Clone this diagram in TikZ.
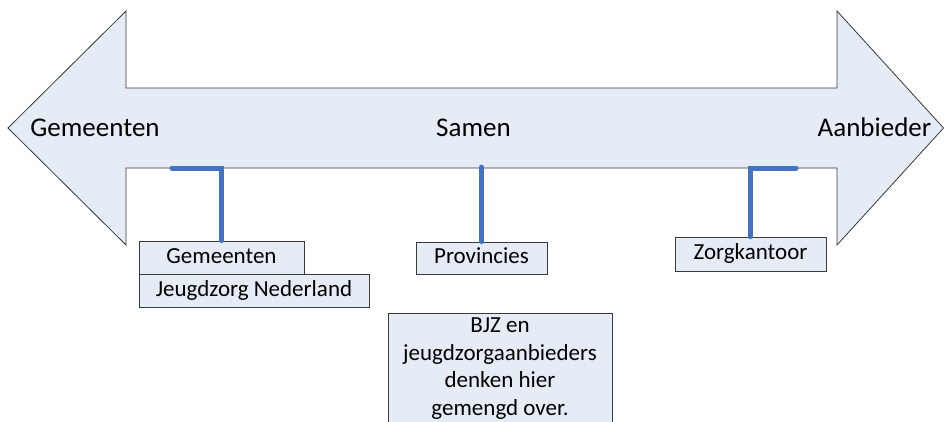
\documentclass[tikz,border=0pt]{standalone}
\usepackage{fontspec}
\setmainfont{Carlito}
\definecolor{paleblue}{HTML}{E6ECF6}
\definecolor{linkblue}{HTML}{4472C4}
\definecolor{edgegray}{HTML}{3A3A3A}
\tikzset{
  bigarrow/.style={draw=edgegray, line width=0.8pt, fill=paleblue, line join=miter},
  biglabel/.style={anchor=base, inner sep=0pt, font=\fontsize{27}{32}\selectfont},
  actor/.style={draw=edgegray, line width=0.8pt, fill=paleblue, inner sep=0pt,
    font=\fontsize{23}{28}\selectfont, text height=1.25em, text depth=0.15em},
  conn/.style={draw=linkblue, line width=5pt, line cap=round, line join=miter}
}
\begin{document}
\begin{tikzpicture}[x=1pt, y=-1pt]
  \clip (0,0) rectangle (944,421);
  \fill[white] (0,0) rectangle (944,421);

  % double-headed arrow
  \draw[bigarrow] (8,128) -- (126,11) -- (126,88) -- (837,88) -- (837,11)
    -- (943.5,128) -- (837,245) -- (837,168) -- (126,168) -- (126,245) -- cycle;

  \node[biglabel] (lgem) at (95,136) {Gemeenten};
  \node[biglabel] (lsam) at (473.5,136) {Samen};
  \node[biglabel] (laan) at (874.5,136) {Aanbieder};

  % boxes under the arrow
  \node[actor, minimum width=165pt, minimum height=33pt] (gem) at (221.5,257.5) {Gemeenten};
  \node[actor, minimum width=230pt, minimum height=33pt] (jzn) at (254,290.5) {Jeugdzorg Nederland};
  \node[actor, minimum width=131pt, minimum height=32pt] (prov) at (481.5,258) {Provincies};
  \node[actor, minimum width=151pt, minimum height=34pt] (zorg) at (750.5,254) {Zorgkantoor};

  \node[draw=edgegray, line width=0.8pt, fill=paleblue, minimum width=224pt,
    minimum height=140pt, anchor=north, inner sep=0pt] (bjz) at (500,313) {};
  \node[anchor=north, inner sep=0pt, align=center, font=\fontsize{23}{27.5}\selectfont]
    (bjztext) at ([yshift=-5pt]bjz.north) {BJZ en\\jeugdzorgaanbieders\\denken hier\\gemengd over.};

  % connectors from the arrow to the boxes
  \coordinate (gL) at (172,168);
  \coordinate (pT) at (481.5,167);
  \coordinate (zR) at (796,168);
  \draw[conn] (gL) -| (gem.north);
  \draw[conn] (pT) -- (prov.north);
  \draw[conn] (zR) -| (zorg.north);
\end{tikzpicture}
\end{document}
